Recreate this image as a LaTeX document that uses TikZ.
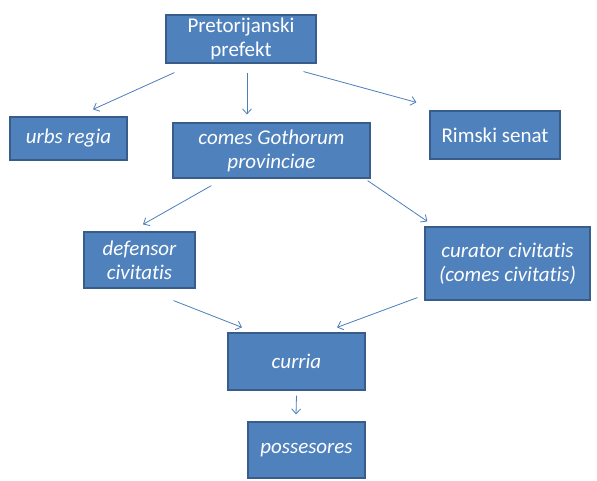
\documentclass[tikz,border=0pt]{standalone}
\usepackage{fontspec}
\setmainfont{Carlito}[Ligatures=NoCommon]
\usetikzlibrary{arrows.meta}
\definecolor{boxblue}{HTML}{4F81BD}
\definecolor{boxline}{HTML}{385D8A}
\definecolor{arrblue}{HTML}{4A7EBB}
\tikzset{
    box/.style={fill=boxblue,draw=boxline,line width=1.2pt,text=white,align=center,
        inner sep=0pt,font=\fontsize{21}{24}\selectfont},
    arr/.style={draw=arrblue,line width=0.8pt,-{Straight Barb[length=5pt,width=9pt]}}
}
\begin{document}
\begin{tikzpicture}[x=1pt,y=1pt]
    \useasboundingbox (0,0) rectangle (597,480);
    \node[box,minimum width=150,minimum height=48] (prefekt) at (241,441) {Pretorijanski\\prefekt};
    \node[box,minimum width=117,minimum height=43] (urbs) at (68.5,341.5) {\itshape urbs regia};
    \node[box,minimum width=197,minimum height=55] (comes) at (271.5,329.5) {\itshape comes Gothorum\\\itshape provinciae};
    \node[box,minimum width=130,minimum height=48] (senat) at (495,345) {Rimski senat};
    \node[box,minimum width=111,minimum height=56] (defensor) at (139.5,220) {\itshape defensor\\\itshape civitatis};
    \node[box,minimum width=165,minimum height=73] (curator) at (507.5,216.5) {\itshape curator civitatis\\\itshape (comes civitatis)};
    \node[box,minimum width=137,minimum height=57] (curria) at (296.5,118.5) {\itshape curria};
    \node[box,minimum width=117,minimum height=56] (posses) at (306.5,30) {\itshape possesores};
    % arrows
    \draw[arr] ([shift={(9,-9)}]prefekt.south west) -- ([shift={(24.5,7)}]urbs.north);
    \draw[arr] ([shift={(6,-9)}]prefekt.south) -- ([shift={(-24.5,8)}]comes.north);
    \draw[arr] ([shift={(-13,-8)}]prefekt.south east) -- ([shift={(-13,8)}]senat.north west);
    \draw[arr] ([shift={(39,-7)}]comes.south west) -- ([shift={(3.5,7)}]defensor.north);
    \draw[arr] ([shift={(-3,-2)}]comes.south east) -- ([shift={(3,5)}]curator.north west);
    \draw[arr] ([shift={(-22,-12)}]defensor.south east) -- ([shift={(-54.5,5)}]curria.north);
    \draw[arr] ([shift={(-7,3)}]curator.south west) -- ([shift={(40.5,5)}]curria.north);
    \draw[arr] ([shift={(0,-5)}]curria.south) -- ([shift={(-10.5,7)}]posses.north);
\end{tikzpicture}
\end{document}
